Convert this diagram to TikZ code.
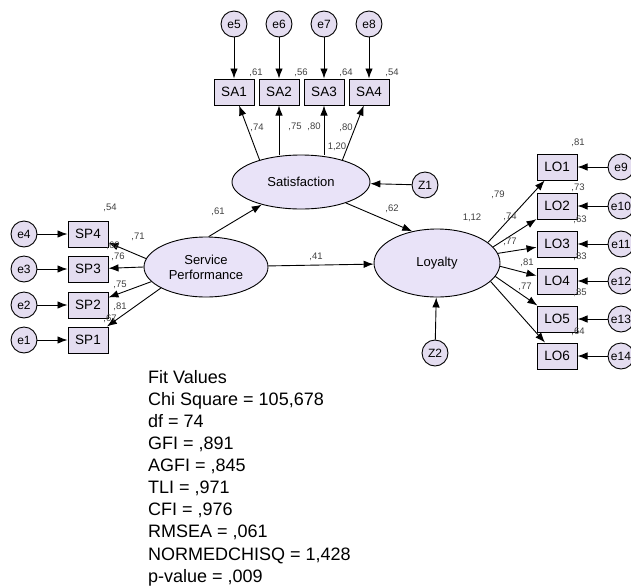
\documentclass[tikz,border=0pt]{standalone}
\usepackage{fontspec}
\setmainfont{Liberation Sans}
\usetikzlibrary{arrows.meta,shapes.geometric}

\begin{document}
\begin{tikzpicture}[x=1pt,y=-1pt,
  obs/.style={draw, line width=1pt, fill=boxfill, minimum width=40pt, minimum height=26pt,
    inner sep=0pt, font=\fontsize{13.5}{13.5}\selectfont},
  err/.style={circle, draw, line width=0.9pt, fill=boxfill, minimum size=26pt, inner sep=0pt,
    font=\fontsize{12}{12}\selectfont},
  latent/.style={ellipse, draw, line width=0.9pt, fill=latfill, inner sep=0pt, align=center,
    font=\fontsize{13}{15}\selectfont},
  regarrow/.style={-{Latex[length=10pt,width=7.5pt]}, line width=0.9pt},
  coef/.style={font=\fontsize{9.5}{9.5}\selectfont, text=black!75, inner sep=0pt}]
  \definecolor{boxfill}{RGB}{228,221,240}
  \definecolor{latfill}{RGB}{233,227,248}

  \useasboundingbox (0,0) rectangle (631,587);
  \clip (0,0) rectangle (631,587);

  %--- Latent variables ---
  \node[latent, minimum width=124pt, minimum height=60pt] (spf) at (206,267) {Service\\Performance};
  \node[latent, minimum width=138pt, minimum height=54pt] (sat) at (301,182) {Satisfaction};
  \node[latent, minimum width=126pt, minimum height=68pt] (loy) at (437,263) {Loyalty};

  %--- Disturbances ---
  \node[err] (z1) at (425,185) {Z1};
  \node[err] (z2) at (435,353) {Z2};

  %--- SA1..SA4 with e5..e8 ---
  \foreach \i/\x/\k in {1/234/5, 2/279/6, 3/324/7, 4/369/8} {
    \node[obs] (sa\i) at (\x,92) {SA\i};
    \node[err] (e\k) at (\x,24) {e\k};
    \draw[regarrow] (e\k) -- (sa\i);
  }

  %--- SP1..SP4 with e1..e4 ---
  \foreach \i/\y in {4/234, 3/269, 2/305, 1/340} {
    \node[obs] (sp\i) at (88,\y) {SP\i};
    \node[err] (e\i) at (24,\y) {e\i};
    \draw[regarrow] (e\i) -- (sp\i);
  }

  %--- LO1..LO6 with e9..e14 ---
  \foreach \i/\y/\k in {1/167/9, 2/206/10, 3/244/11, 4/281/12, 5/319/13, 6/356/14} {
    \node[obs] (lo\i) at (557,\y) {LO\i};
    \node[err] (e\k) at (621,\y) {e\k};
    \draw[regarrow] (e\k) -- (lo\i);
  }

  %--- Loadings ---
  \draw[regarrow] (sat.152) -- (sa1);
  \draw[regarrow] (sat.north -| sa2) -- (sa2);
  \draw[regarrow] (sat.north -| sa3) -- (sa3);
  \draw[regarrow] (sat.28) -- (sa4);

  \draw[regarrow] (spf.172) -- (sp4);
  \draw[regarrow] (spf.west) -- (sp3);
  \draw[regarrow] (spf.195) -- (sp2);
  \draw[regarrow] (spf.205) -- (sp1);

  \foreach \i/\a in {1/22, 2/16, 3/9, 4/357, 5/347, 6/341}
    \draw[regarrow] (loy.\a) -- (lo\i);

  %--- Structural paths ---
  \draw[regarrow] (spf.85) -- (sat.210);
  \draw[regarrow] (spf) -- (loy);
  \draw[regarrow] (sat.335) -- (loy.128);
  \draw[regarrow] (z1) -- (sat);
  \draw[regarrow] (z2) -- (loy);

  %--- Estimates ---
  \foreach \n/\x/\y/\t in {
      a1/256/73/{,61}, a2/301/73/{,56}, a3/346/73/{,64}, a4/392/73/{,54},
      a5/257/128/{,74}, a6/295/127/{,75}, a7/314/127/{,80}, a8/346/128/{,80}, a9/337/147/{1,20},
      b1/218/212/{,61}, b2/392/209/{,62}, b3/316/257/{,41},
      c1/110/208/{,54}, c2/138/237/{,71}, c3/113/246/{,62}, c4/118/257/{,76},
      c5/120/285/{,75}, c6/120/307/{,81}, c7/110/319/{,67},
      d1/578/143/{,81}, d2/578/188/{,73}, d3/580/220/{,63}, d4/498/195/{,79},
      d5/510/217/{,74}, d6/472/218/{1,12}, d7/510/242/{,77}, d8/580/257/{,83},
      d9/527/263/{,81}, d10/525/287/{,77}, d11/580/293/{,85}, d12/578/332/{,64}}
    \node[coef] (\n) at (\x,\y) {\t};

  %--- Fit values ---
  \node[anchor=north west, inner sep=0pt, align=left, font=\fontsize{18}{22.1}\selectfont]
    (fit) at (148,370)
    {Fit Values\\Chi Square = 105,678\\df = 74\\GFI = ,891\\AGFI = ,845\\TLI = ,971\\
     CFI = ,976\\RMSEA = ,061\\NORMEDCHISQ = 1,428\\p-value = ,009};

\end{tikzpicture}
\end{document}
